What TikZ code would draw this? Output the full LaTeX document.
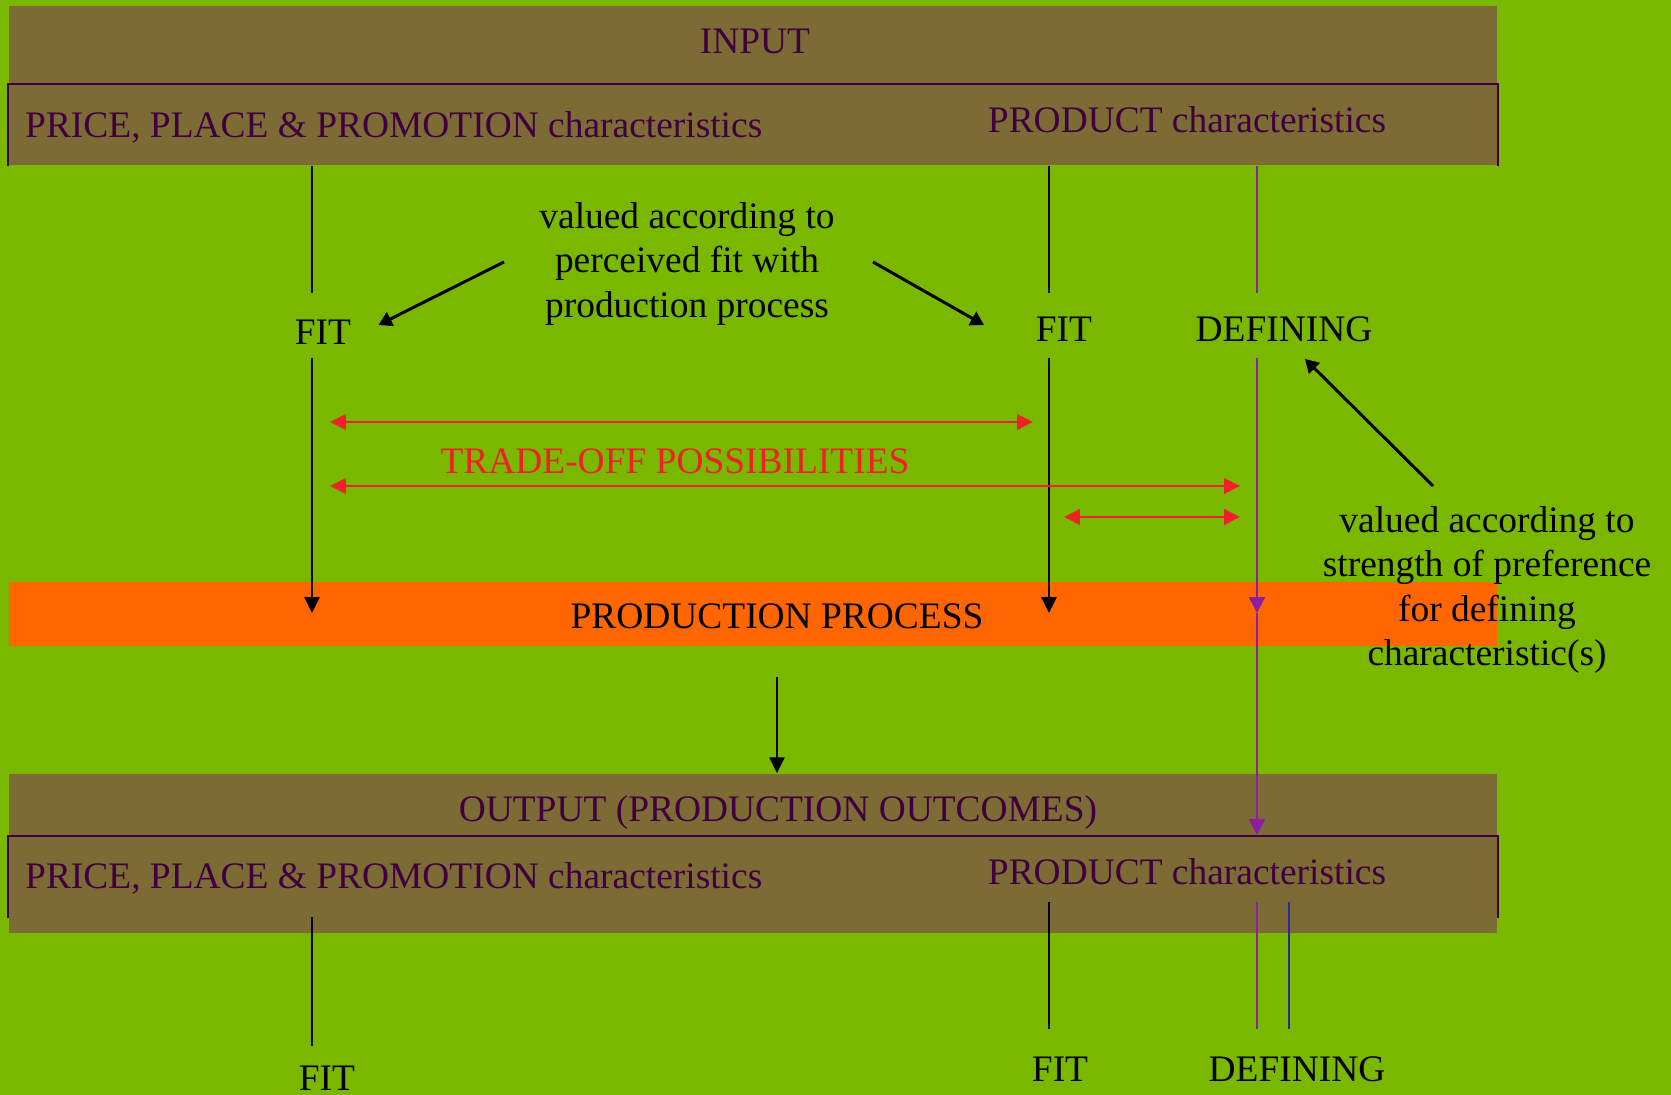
\documentclass[tikz,border=0pt]{standalone}
\usepackage{fontspec}
\setmainfont{Liberation Serif}
\usetikzlibrary{arrows.meta}
\definecolor{field}{RGB}{122,184,0}
\definecolor{band}{RGB}{125,107,53}
\definecolor{plum}{RGB}{64,0,64}
\definecolor{process}{RGB}{255,102,0}
\definecolor{tradeoff}{RGB}{240,32,40}
\definecolor{defline}{RGB}{140,30,160}
\definecolor{defblue}{RGB}{40,40,170}
\tikzset{
  bandbox/.style={fill=band, inner sep=0pt, minimum width=14.88cm},
  heading/.style={text=plum, inner sep=0pt, anchor=base},
  term/.style={inner sep=0pt, anchor=base},
  note/.style={align=center, inner sep=0pt},
  bandedge/.style={plum, line width=0.6pt},
  link/.style={black, line width=0.55pt},
  flow/.style={link, -{Triangle[length=4.5pt,width=4.3pt]}},
  pointer/.style={black, line width=0.85pt, -{Triangle[length=3.8pt,width=4.3pt]}},
  tradearrow/.style={tradeoff, line width=0.8pt, {Triangle[length=4.5pt,width=4.3pt]}-{Triangle[length=4.5pt,width=4.3pt]}},
  defflow/.style={defline, line width=0.6pt, -{Triangle[length=4.5pt,width=4.5pt]}}
}

\begin{document}
\begin{tikzpicture}[font=\fontsize{10.65}{12.66}\selectfont]
  \fill[field] (0,0) rectangle (16.71,-10.95);

  % bands
  \node[bandbox, minimum height=0.79cm] (input) at (7.53,-0.455) {};
  \node[bandbox, minimum height=0.80cm] (pin) at (7.53,-1.25) {};
  \node[fill=process, inner sep=0pt, minimum width=14.88cm, minimum height=0.64cm] (process) at (7.53,-6.14) {};
  \node[bandbox, minimum height=0.63cm] (output) at (7.53,-8.055) {};
  \node[bandbox, minimum height=0.96cm] (pout) at (7.53,-8.85) {};
  \draw[bandedge] (pin.south west) -- (pin.north west) -- (pin.north east) -- (pin.south east);
  \draw[bandedge] ([yshift=0.16cm]pout.south west) -- (pout.north west) -- (pout.north east) -- ([yshift=0.16cm]pout.south east);

  % texts
  \node[heading] (inputtext) at (7.55,-0.54) {INPUT};
  \node[heading, anchor=base west] (ppptop) at (0.245,-1.38) {PRICE, PLACE \& PROMOTION characteristics};
  \node[heading] (prodtop) at (11.87,-1.33) {PRODUCT characteristics};
  \node[term] (fitA) at (3.23,-3.45) {FIT};
  \node[term] (fitB) at (10.64,-3.42) {FIT};
  \node[term] (defA) at (12.84,-3.42) {DEFINING};
  \node[note] (fitnote) at (6.87,-2.64) {valued according to\\perceived fit with\\production process};
  \node[note] (defnote) at (14.87,-5.90) {valued according to\\strength of preference\\for defining\\characteristic(s)};
  \node[term, text=tradeoff] (trade) at (6.75,-4.74) {TRADE-OFF POSSIBILITIES};
  \node[term] (proctext) at (7.77,-6.29) {PRODUCTION PROCESS};
  \node[heading] (outputtext) at (7.78,-8.22) {OUTPUT (PRODUCTION OUTCOMES)};
  \node[heading, anchor=base west] (pppout) at (0.245,-8.89) {PRICE, PLACE \& PROMOTION characteristics};
  \node[heading] (prodout) at (11.87,-8.85) {PRODUCT characteristics};
  \node[term] (fitC) at (3.27,-10.90) {FIT};
  \node[term] (fitD) at (10.60,-10.81) {FIT};
  \node[term] (defB) at (12.97,-10.81) {DEFINING};

  % line ends
  \coordinate (priceUp) at (3.12,-2.93);
  \coordinate (priceDown) at (3.12,-3.58);
  \coordinate (priceIn) at (3.12,-6.13);
  \coordinate (prodUp) at (10.49,-2.93);
  \coordinate (prodDown) at (10.49,-3.58);
  \coordinate (prodIn) at (10.49,-6.13);
  \coordinate (defUp) at (12.57,-2.93);
  \coordinate (defDown) at (12.57,-3.58);
  \coordinate (defIn) at (12.57,-6.13);
  \coordinate (defOut) at (12.57,-8.35);
  \coordinate (procOut) at (7.77,-6.77);
  \coordinate (priceLow) at (3.12,-9.17);
  \coordinate (priceEnd) at (3.12,-10.46);
  \coordinate (prodLow) at (10.49,-9.02);
  \coordinate (prodEnd) at (10.49,-10.29);
  \coordinate (defLow) at (12.57,-9.02);
  \coordinate (defEnd) at (12.57,-10.29);
  \coordinate (prefLow) at (12.89,-9.02);
  \coordinate (prefEnd) at (12.89,-10.29);
  \coordinate (fitnoteL) at (5.04,-2.62);
  \coordinate (fitnoteR) at (8.73,-2.62);
  \coordinate (fitAtip) at (3.785,-3.25);
  \coordinate (fitBtip) at (9.84,-3.25);
  \coordinate (defnoteTop) at (14.33,-4.86);
  \coordinate (defAtip) at (13.05,-3.59);
  \coordinate (tradeL) at (3.30,-4.22);
  \coordinate (tradeM) at (10.33,-4.22);
  \coordinate (tradeL2) at (3.30,-4.86);
  \coordinate (tradeR) at (12.40,-4.86);
  \coordinate (tradeF) at (10.64,-5.17);
  \coordinate (tradeR2) at (12.40,-5.17);

  % input to production
  \draw[link] (pin.south -| priceUp) -- (priceUp);
  \draw[flow] (priceDown) -- (priceIn);
  \draw[link] (pin.south -| prodUp) -- (prodUp);
  \draw[flow] (prodDown) -- (prodIn);
  \draw[defline, line width=0.45pt] (pin.south -| defUp) -- (defUp);
  \draw[defflow] (defDown) -- (defIn);
  \draw[defflow] (defIn) -- (defOut);
  \draw[flow] (procOut) -- (output.north -| procOut);

  \draw[pointer] (fitnoteL) -- (fitAtip);
  \draw[pointer] (fitnoteR) -- (fitBtip);
  \draw[pointer] (defnoteTop) -- (defAtip);

  \draw[tradearrow] (tradeL) -- (tradeM);
  \draw[tradearrow] (tradeL2) -- (tradeR);
  \draw[tradearrow] (tradeF) -- (tradeR2);

  % output lines
  \draw[link] (priceLow) -- (priceEnd);
  \draw[link] (prodLow) -- (prodEnd);
  \draw[defline, line width=0.35pt] (defLow) -- (defEnd);
  \draw[defblue, line width=0.35pt] (prefLow) -- (prefEnd);
\end{tikzpicture}
\end{document}
